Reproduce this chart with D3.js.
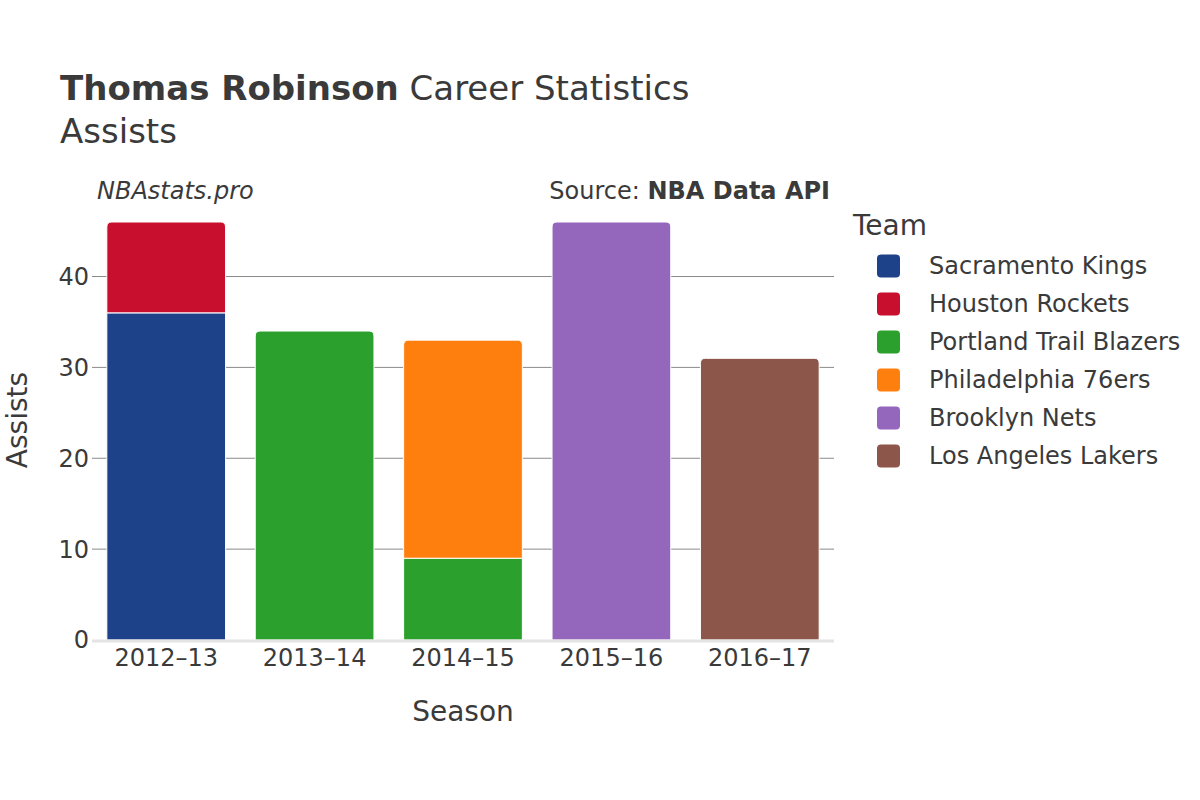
<!DOCTYPE html>
<html>
<head>
<meta charset="utf-8">
<script src="https://cdn.jsdelivr.net/npm/d3@7"></script>
<style>
  body { margin: 0; background: #fff; }
  text { font-family: "DejaVu Sans", sans-serif; fill: #3a3a3a; }
</style>
</head>
<body>
<div id="chart"></div>
<script>
const width = 1200;
const height = 800;

// data
const seasons = ["2012–13", "2013–14", "2014–15", "2015–16", "2016–17"];
const teams = ["Sacramento Kings", "Houston Rockets", "Portland Trail Blazers",
               "Philadelphia 76ers", "Brooklyn Nets", "Los Angeles Lakers"];
const teamColors = ["#1d428a", "#c8102e", "#2ca02c", "#ff7f0e", "#9467bd", "#8c564b"];
// one row per season stint, stacked in this order
const stintSeason = ["2012–13", "2012–13", "2013–14", "2014–15", "2014–15", "2015–16", "2016–17"];
const stintTeam   = ["Sacramento Kings", "Houston Rockets", "Portland Trail Blazers",
                     "Portland Trail Blazers", "Philadelphia 76ers", "Brooklyn Nets", "Los Angeles Lakers"];
const stintAssists = [36, 10, 34, 9, 24, 46, 31];
const yTicks = [0, 10, 20, 30, 40];

const margin = { top: 222, right: 366, bottom: 160, left: 92 };

const svg = d3.select("#chart").append("svg")
   .attr("width", width)
   .attr("height", height);

// titles
const title = svg.append("text")
   .attr("x", 60)
   .attr("y", 100)
   .style("font-size", "34px");
title.append("tspan").style("font-weight", "bold").text("Thomas Robinson");
title.append("tspan").text(" Career Statistics");

svg.append("text")
   .attr("x", 60)
   .attr("y", 143)
   .style("font-size", "34px")
   .text("Assists");

const x = d3.scaleBand()
   .domain(seasons)
   .range([margin.left, width - margin.right])
   .paddingInner(0.2)
   .paddingOuter(0.1);

const y = d3.scaleLinear()
   .domain([0, 46])
   .range([height - margin.bottom, margin.top]);

svg.append("text")
   .attr("x", 97)
   .attr("y", 199)
   .style("font-size", "24px")
   .style("font-style", "italic")
   .text("NBAstats.pro");

const src = svg.append("text")
   .attr("x", 830)
   .attr("y", 199)
   .style("font-size", "24px")
   .style("text-anchor", "end");
src.append("tspan").text("Source: ");
src.append("tspan").style("font-weight", "bold").text("NBA Data API");

// grid lines
svg.append("g")
   .selectAll("line")
   .data(yTicks.filter(d => d > 0))
   .join("line")
   .attr("x1", margin.left)
   .attr("x2", width - margin.right)
   .attr("y1", d => y(d))
   .attr("y2", d => y(d))
   .attr("stroke", "#8a8a8a")
   .attr("stroke-width", 1);

// y tick labels
svg.append("g")
   .selectAll("text")
   .data(yTicks)
   .join("text")
   .attr("x", 89)
   .attr("y", d => y(d))
   .attr("dy", "0.35em")
   .style("font-size", "24px")
   .style("text-anchor", "end")
   .text(d => d);

// stack the stints per season
const stints = stintSeason.map((s, i) => ({
   season: s, team: stintTeam[i], value: stintAssists[i]
}));
const running = {};
stints.forEach(d => {
   d.y0 = running[d.season] || 0;
   d.y1 = d.y0 + d.value;
   running[d.season] = d.y1;
});
stints.forEach(d => { d.isTop = d.y1 === running[d.season]; });

const color = d3.scaleOrdinal().domain(teams).range(teamColors);
const r = 5;

function barPath(d) {
   const x0 = x(d.season), x1 = x0 + x.bandwidth();
   const top = y(d.y1), bot = y(d.y0);
   if (!d.isTop) {
      return `M${x0},${bot}V${top}H${x1}V${bot}Z`;
   }
   return `M${x0},${bot}V${top + r}Q${x0},${top} ${x0 + r},${top}` +
          `H${x1 - r}Q${x1},${top} ${x1},${top + r}V${bot}Z`;
}

svg.append("g")
   .selectAll("path")
   .data(stints)
   .join("path")
   .attr("d", barPath)
   .attr("fill", d => color(d.team))
   .attr("stroke", "#fff")
   .attr("stroke-width", 1);

// zero line
svg.append("line")
   .attr("x1", margin.left)
   .attr("x2", width - margin.right)
   .attr("y1", y(0) + 1)
   .attr("y2", y(0) + 1)
   .attr("stroke", "#e4e4e4")
   .attr("stroke-width", 3);

// x tick labels
svg.append("g")
   .selectAll("text")
   .data(seasons)
   .join("text")
   .attr("x", d => x(d) + x.bandwidth() / 2)
   .attr("y", 666)
   .style("font-size", "24px")
   .style("text-anchor", "middle")
   .text(d => d);

// axis titles
svg.append("text")
   .attr("x", (margin.left + width - margin.right) / 2)
   .attr("y", 721)
   .style("font-size", "28px")
   .style("text-anchor", "middle")
   .text("Season");

svg.append("text")
   .attr("transform", "translate(17,420) rotate(-90)")
   .attr("dy", "0.35em")
   .style("font-size", "28px")
   .style("text-anchor", "middle")
   .text("Assists");

// legend
svg.append("text")
   .attr("x", 853)
   .attr("y", 235)
   .style("font-size", "28px")
   .text("Team");

const leg = svg.append("g")
   .selectAll("g")
   .data(teams)
   .join("g")
   .attr("transform", (d, i) => `translate(877,${266 + i * 38})`);

leg.append("rect")
   .attr("x", 0)
   .attr("y", -11.5)
   .attr("width", 23)
   .attr("height", 23)
   .attr("rx", 4)
   .attr("fill", d => color(d));

leg.append("text")
   .attr("x", 52)
   .attr("dy", "0.35em")
   .style("font-size", "24px")
   .text(d => d);
</script>
</body>
</html>
